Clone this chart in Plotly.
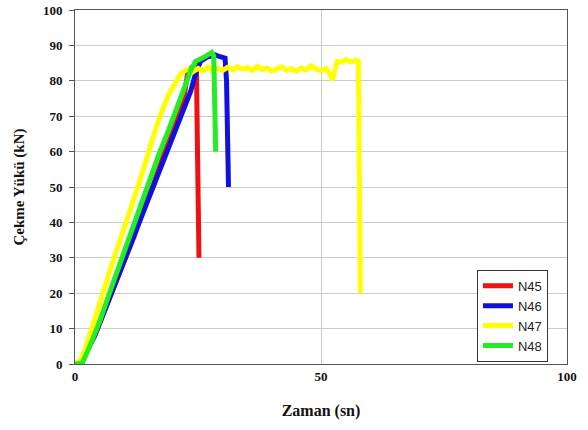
import plotly.graph_objects as go

# N45
t45 = [0, 1, 2, 4, 6, 8, 10, 12, 14, 16, 18, 20, 22, 23, 24, 24.7, 24.9, 25.2]
y45 = [0, 0.5, 3, 8, 15, 22, 29, 36, 44, 51, 59, 66, 74, 83, 84, 82, 60, 30]
# N46
t46 = [0, 1, 2, 4, 6, 8, 10, 12, 14, 16, 18, 20, 22, 23.5, 24.5, 25.5, 27, 28.5, 29.5, 30.5, 30.8, 31.0, 31.2]
y46 = [0, 0.5, 2.5, 8, 15, 22, 29, 36, 43, 50, 57, 64, 71, 77, 82, 85.5, 86.8, 87.3, 86.8, 86.4, 80, 65, 50]
# N47
t47 = [0, 1, 2, 3, 4, 5, 7, 9, 11, 13, 15, 17, 19, 20.5, 21.5, 22.5,
       23, 24, 25, 26, 27, 28, 29, 30, 31, 32, 33, 34, 35, 36, 37, 38, 39, 40,
       41, 42, 43, 44, 45, 46, 47, 48, 49, 50, 51, 51.8, 52.3, 52.8, 53.3, 54,
       55, 56, 57, 57.6, 57.8, 58]
y47 = [0, 1, 4, 8, 13, 17, 26, 34, 42, 51, 60, 69, 76, 80, 82, 83,
       83.2, 82.6, 83.5, 82.8, 83.9, 82.7, 83.4, 82.9, 83.8, 83.1, 84.0, 83.3, 83.7, 82.9, 84.1, 83.2, 83.6, 82.8,
       83.5, 83.9, 83.0, 83.4, 82.7, 83.6, 83.1, 84.2, 83.3, 82.8, 83.5, 82.0, 80.2, 83.0, 85.5, 85.2,
       86.0, 85.3, 85.8, 85.5, 60, 20]
# N48
t48 = [0, 1.5, 3, 5, 7, 9, 11, 13, 15, 17, 19, 21, 22.5, 23.5, 24.5, 26, 27, 27.8, 28.2, 28.4, 28.6]
y48 = [0, 0.3, 5, 12, 20, 28, 35, 43, 51, 59, 66, 73, 79, 83, 85.5, 86.5, 87.5, 88, 87, 75, 60]

names = ["N45", "N46", "N47", "N48"]
colors = ["#EE1111", "#1111DD", "#FFFF00", "#22EE22"]
series = [(t45, y45), (t46, y46), (t47, y47), (t48, y48)]

fig = go.Figure()
for (t, y), n, c in zip(series, names, colors):
    fig.add_trace(go.Scatter(x=t, y=y, name=n, mode="lines",
                             line=dict(color=c, width=5)))

serif = "Liberation Serif, Times New Roman, serif"
fig.update_layout(
    width=588, height=430,
    margin=dict(l=75, r=21, t=10, b=66),
    paper_bgcolor="white", plot_bgcolor="white",
    showlegend=True,
    legend=dict(x=0.817, y=0.266, xanchor="left", yanchor="top",
                bgcolor="white", bordercolor="#333333", borderwidth=1,
                font=dict(family="Liberation Sans, Arial, sans-serif", size=13, color="#222"),
                tracegroupgap=0, itemwidth=30),
    xaxis=dict(range=[0, 100], dtick=50, showgrid=True, gridcolor="#cccccc",
               showline=True, linecolor="#555555", mirror=True, zeroline=False,
               automargin=False, ticklabeloverflow="allow",
               ticks="", tickfont=dict(family=serif, size=13, color="#111", weight="bold"),
               title=dict(text="Zaman (sn)", font=dict(family=serif, size=16, color="#111", weight="bold"),
                          standoff=22)),
    yaxis=dict(range=[0, 100], dtick=10, showgrid=True, gridcolor="#cccccc",
               showline=True, linecolor="#555555", mirror=True, zeroline=False,
               automargin=False, ticklabelstandoff=4, ticklabeloverflow="allow",
               ticks="outside", ticklen=5, tickcolor="#555555",
               tickfont=dict(family=serif, size=13, color="#111", weight="bold"),
               title=dict(text="Çekme Yükü (kN)", font=dict(family=serif, size=15, color="#111", weight="bold"),
                          standoff=14)),
)

fig.write_html("out.html", config={"displayModeBar": False},
               post_script="document.body.style.margin='0';")
